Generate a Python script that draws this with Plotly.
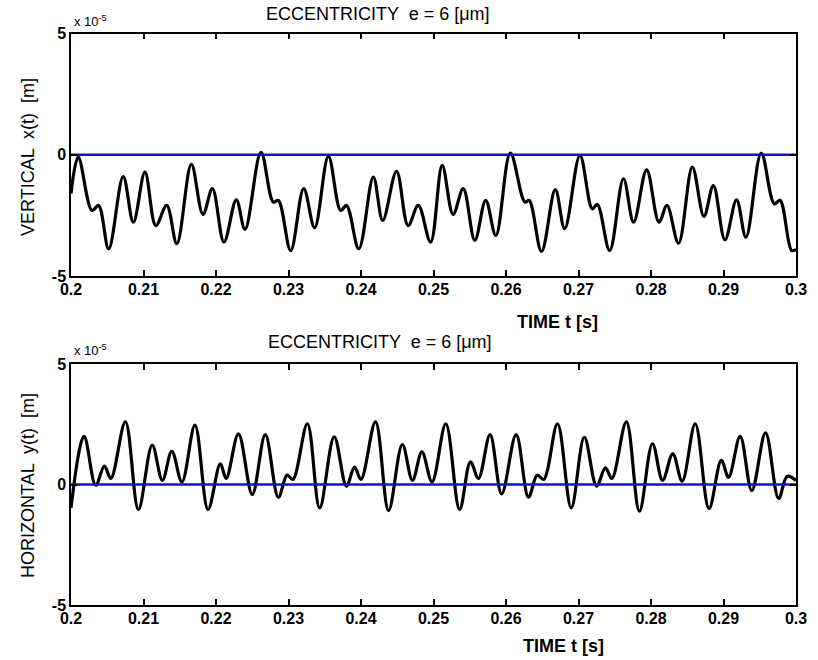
import plotly.graph_objects as go

# ---------------- data (displacement in units of 1e-5 m) ----------------
t_vert = [0.2000, 0.2010, 0.2029, 0.2038, 0.2052, 0.2072, 0.2086, 0.2102, 0.2117, 0.2132,
          0.2146, 0.2166, 0.2182, 0.2195, 0.2211, 0.2228, 0.2240, 0.2262, 0.2279, 0.2286,
          0.2303, 0.2321, 0.2336, 0.2355, 0.2372, 0.2380, 0.2397, 0.2417, 0.2430, 0.2449,
          0.2465, 0.2479, 0.2496, 0.2512, 0.2527, 0.2541, 0.2557, 0.2572, 0.2586, 0.2606,
          0.2626, 0.2632, 0.2649, 0.2668, 0.2681, 0.2702, 0.2719, 0.2726, 0.2743, 0.2762,
          0.2776, 0.2794, 0.2811, 0.2822, 0.2838, 0.2857, 0.2873, 0.2886, 0.2902, 0.2918,
          0.2931, 0.2952, 0.2970, 0.2978, 0.2994, 0.3000]
x_vert = [-1.6, -0.1, -2.3, -2.09, -3.88, -0.9, -2.78, -0.72, -2.92, -2.09,
          -3.67, -0.4, -2.46, -1.4, -3.6, -1.86, -3.08, 0.1, -1.95, -1.88,
          -3.95, -1.4, -3.01, -0.07, -2.3, -2.09, -3.88, -0.92, -2.71, -0.68,
          -2.92, -2.09, -3.6, -0.44, -2.46, -1.4, -3.53, -1.88, -3.33, 0.07,
          -1.95, -1.88, -3.99, -1.44, -3.05, -0.03, -2.23, -2.05, -3.95, -0.99,
          -2.78, -0.62, -2.78, -2.09, -3.65, -0.51, -2.54, -1.27, -3.51, -1.86,
          -3.4, 0.07, -2.02, -1.88, -3.95, -3.9]

t_horz = [0.2000, 0.2018, 0.2034, 0.2046, 0.2055, 0.2075, 0.2093, 0.2112, 0.2126, 0.2139,
          0.2153, 0.2171, 0.2189, 0.2206, 0.2214, 0.2231, 0.2250, 0.2268, 0.2286, 0.2298,
          0.2306, 0.2326, 0.2343, 0.2363, 0.2380, 0.2391, 0.2400, 0.2420, 0.2438, 0.2457,
          0.2471, 0.2484, 0.2498, 0.2517, 0.2536, 0.2551, 0.2562, 0.2578, 0.2594, 0.2614,
          0.2631, 0.2643, 0.2652, 0.2671, 0.2690, 0.2708, 0.2725, 0.2737, 0.2746, 0.2766,
          0.2784, 0.2802, 0.2816, 0.2830, 0.2843, 0.2861, 0.2880, 0.2897, 0.2907, 0.2923,
          0.2939, 0.2958, 0.2976, 0.2988, 0.3000]
y_horz = [-0.97, 2.0, -0.03, 0.76, 0.25, 2.6, -1.04, 1.63, 0.17, 1.38,
          0.11, 2.46, -1.04, 0.86, 0.25, 2.1, -0.41, 2.07, -0.53, 0.39,
          0.21, 2.52, -0.97, 1.98, -0.07, 0.72, 0.21, 2.6, -1.08, 1.66,
          0.17, 1.35, 0.11, 2.52, -1.04, 0.94, 0.25, 2.07, -0.39, 2.07,
          -0.53, 0.39, 0.21, 2.52, -0.97, 1.96, -0.07, 0.69, 0.25, 2.6,
          -1.11, 1.69, 0.17, 1.27, 0.14, 2.52, -1.0, 1.0, 0.3, 2.0,
          -0.25, 2.14, -0.58, 0.34, 0.17]

ref_t = [0.2, 0.3]
ref_v = [0.0, 0.0]

x_tickvals = [0.2, 0.21, 0.22, 0.23, 0.24, 0.25, 0.26, 0.27, 0.28, 0.29, 0.3]
x_ticktext = ["0.2", "0.21", "0.22", "0.23", "0.24", "0.25", "0.26", "0.27", "0.28", "0.29", "0.3"]
y_tickvals = [-5, 0, 5]
y_ticktext = ["-5", "0", "5"]

title_text = "ECCENTRICITY  e = 6 [\u03bcm]"
xlabel = "TIME t [s]"
ylabel_top = "VERTICAL  x(t)  [m]"
ylabel_bot = "HORIZONTAL  y(t)  [m]"

# ---------------- figure ----------------
W, H = 818, 660
FONT = "Liberation Sans, Arial, sans-serif"
BLUE = "rgb(15,15,235)"

fig = go.Figure()
fig.add_trace(go.Scatter(x=t_vert, y=x_vert, mode="lines",
                         line=dict(color="black", width=3.2, shape="spline", smoothing=1.0),
                         xaxis="x", yaxis="y", showlegend=False, hoverinfo="skip"))
fig.add_trace(go.Scatter(x=ref_t, y=ref_v, mode="lines",
                         line=dict(color=BLUE, width=2.5),
                         xaxis="x", yaxis="y", showlegend=False, hoverinfo="skip"))
fig.add_trace(go.Scatter(x=t_horz, y=y_horz, mode="lines",
                         line=dict(color="black", width=3.2, shape="spline", smoothing=1.0),
                         xaxis="x2", yaxis="y2", showlegend=False, hoverinfo="skip"))
fig.add_trace(go.Scatter(x=ref_t, y=ref_v, mode="lines",
                         line=dict(color=BLUE, width=2.5),
                         xaxis="x2", yaxis="y2", showlegend=False, hoverinfo="skip"))

xd = [71 / W, 796 / W]
top_dom = [1 - 276 / H, 1 - 33.5 / H]
bot_dom = [1 - 605 / H, 1 - 364 / H]

def xaxis_cfg(standoff):
    return dict(range=[0.2, 0.3], tickvals=x_tickvals, ticktext=x_ticktext,
                ticks="inside", ticklen=6, tickwidth=1.5, tickcolor="black",
                showline=True, linecolor="black", linewidth=1.5, mirror="ticks",
                showgrid=False, zeroline=False, ticklabelstandoff=standoff,
                tickfont=dict(family=FONT, size=16, color="black", weight="bold"))

common_y = dict(range=[-5, 5], tickvals=y_tickvals, ticktext=y_ticktext,
                ticks="inside", ticklen=6, tickwidth=1.5, tickcolor="black",
                showline=True, linecolor="black", linewidth=1.5, mirror="ticks",
                showgrid=False, zeroline=False,
                tickfont=dict(family=FONT, size=16, color="black", weight="bold"))

fig.update_layout(
    width=W, height=H,
    margin=dict(l=0, r=0, t=0, b=0, autoexpand=False),
    paper_bgcolor="white", plot_bgcolor="white",
    xaxis=dict(domain=xd, anchor="y", **xaxis_cfg(-2)),
    yaxis=dict(domain=top_dom, anchor="x", **common_y),
    xaxis2=dict(domain=xd, anchor="y2", **xaxis_cfg(-2)),
    yaxis2=dict(domain=bot_dom, anchor="x2", **common_y),
)

def px(xp, yp):
    return xp / W, 1 - yp / H

anns = []
def ann(text, xp, yp, size, bold=False, angle=0, xanchor="center"):
    x, y = px(xp, yp)
    anns.append(dict(text=text, x=x, y=y, xref="paper", yref="paper",
                     xanchor=xanchor, yanchor="middle", showarrow=False, textangle=angle,
                     font=dict(family=FONT, size=size, color="black",
                               weight="bold" if bold else "normal")))

ann(title_text, 378, 14, 18)
ann(title_text, 380, 342, 18)
ann(xlabel, 557, 322, 18, bold=True)
ann(xlabel, 563, 646, 18, bold=True)
ann(ylabel_top, 28, 157, 18, angle=-90)
ann(ylabel_bot, 28, 486, 18, angle=-90)
ann("x 10<sup>-5</sup>", 72, 21, 13, xanchor="left")
ann("x 10<sup>-5</sup>", 72, 350, 13, xanchor="left")
fig.update_layout(annotations=anns)

fig.write_html("out.html")
